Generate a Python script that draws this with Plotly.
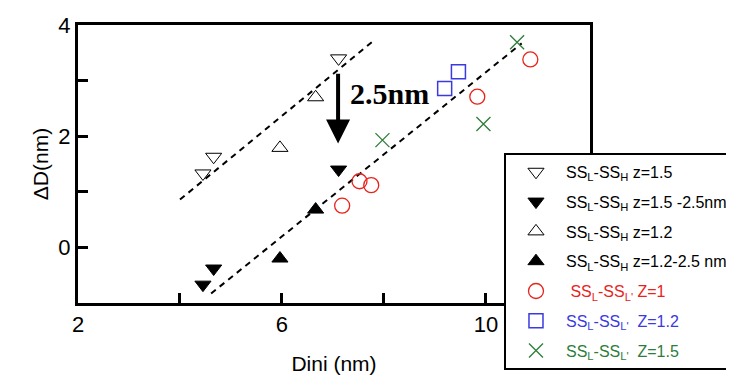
import plotly.graph_objects as go

# ---- data ----
ss15_open_x = [4.45, 4.66, 7.11]
ss15_open_y = [1.33, 1.63, 3.40]
ss15_fill_x = [4.45, 4.66, 7.11]
ss15_fill_y = [-0.67, -0.38, 1.40]
ss12_open_x = [5.96, 6.66]
ss12_open_y = [1.79, 2.70]
ss12_fill_x = [5.96, 6.66]
ss12_fill_y = [-0.20, 0.68]
z1_x = [7.18, 7.52, 7.75, 9.83, 10.87]
z1_y = [0.75, 1.19, 1.12, 2.71, 3.38]
z12_x = [9.19, 9.46]
z12_y = [2.86, 3.16]
z15_x = [7.97, 9.95, 10.61]
z15_y = [1.93, 2.22, 3.69]
fit_upper_x = [4.00, 7.76]
fit_upper_y = [0.86, 3.69]
fit_lower_x = [4.61, 10.70]
fit_lower_y = [-0.83, 3.67]
arrow_x = 7.10
arrow_from_y = 3.15
arrow_to_y = 1.87
shift_label = "2.5nm"
shift_label_x = 7.29
shift_label_y = 2.76

x_tickvals = [2, 4, 6, 8, 10]
x_ticktext = ["2", "", "6", "", "10"]
y_tickvals = [0, 1, 2, 3, 4]
y_ticktext = ["0", "", "2", "", "4"]

RED = "#e8231c"
BLUE = "#3a3ae0"
GREEN = "#2e7d3a"

fig = go.Figure()

# dashed fit lines
for fx, fy in [(fit_upper_x, fit_upper_y), (fit_lower_x, fit_lower_y)]:
    fig.add_trace(go.Scatter(x=fx, y=fy, mode="lines", showlegend=False,
                             line=dict(color="black", width=2, dash="6px,5px"),
                             hoverinfo="skip"))

def add(x, y, name, symbol, size, color, fill, lw, legendgroup):
    fig.add_trace(go.Scatter(
        x=x, y=y, mode="markers", name=name, legendgroup=legendgroup,
        marker=dict(symbol=symbol, size=size, color=fill,
                    line=dict(color=color, width=lw))))

add(ss15_open_x, ss15_open_y, "SS<sub>L</sub>-SS<sub>H</sub> z=1.5",
    "triangle-down", 14, "black", "white", 1, "a")
add(ss15_fill_x, ss15_fill_y, "SS<sub>L</sub>-SS<sub>H</sub> z=1.5 -2.5nm",
    "triangle-down", 14, "black", "black", 1, "b")
add(ss12_open_x, ss12_open_y, "SS<sub>L</sub>-SS<sub>H</sub> z=1.2",
    "triangle-up", 14, "black", "white", 1, "c")
add(ss12_fill_x, ss12_fill_y, "SS<sub>L</sub>-SS<sub>H</sub> z=1.2-2.5 nm",
    "triangle-up", 14, "black", "black", 1, "d")
fig.add_trace(go.Scatter(x=z1_x, y=z1_y, mode="markers", legendgroup="e",
    name="<span style='color:%s'> SS<sub>L</sub>-SS<sub>L'</sub> Z=1</span>" % RED,
    marker=dict(symbol="circle-open", size=15, color=RED, line=dict(width=1.3))))
fig.add_trace(go.Scatter(x=z12_x, y=z12_y, mode="markers", legendgroup="f",
    name="<span style='color:%s'>SS<sub>L</sub>-SS<sub>L'</sub>  Z=1.2</span>" % BLUE,
    marker=dict(symbol="square-open", size=14, color=BLUE, line=dict(width=1.5))))
fig.add_trace(go.Scatter(x=z15_x, y=z15_y, mode="markers", legendgroup="g",
    name="<span style='color:%s'>SS<sub>L</sub>-SS<sub>L'</sub>  Z=1.5</span>" % GREEN,
    marker=dict(symbol="x-thin", size=14, color=GREEN, line=dict(width=1.3, color=GREEN))))

fig.add_annotation(x=arrow_x, y=arrow_to_y, ax=arrow_x, ay=arrow_from_y,
                   xref="x", yref="y", axref="x", ayref="y", text="",
                   showarrow=True, arrowhead=2, arrowsize=1.2, arrowwidth=4,
                   arrowcolor="black")
fig.add_annotation(x=shift_label_x, y=shift_label_y, xref="x", yref="y",
                   text=shift_label, showarrow=False, xanchor="left", yanchor="middle",
                   font=dict(family="Liberation Serif", size=30, color="black", weight="bold"))

axis_common = dict(showline=True, linecolor="black", linewidth=3, mirror=True,
                   ticks="inside", ticklen=10, tickwidth=2.5, tickcolor="black",
                   showgrid=False, zeroline=False, automargin=False,
                   tickfont=dict(family="Liberation Sans", size=22, color="black"))

fig.update_xaxes(range=[2, 12.04], tickmode="array", tickvals=x_tickvals,
                 ticktext=x_ticktext,
                 title=dict(text="Dini (nm)", standoff=20,
                            font=dict(family="Liberation Sans", size=21, color="black")),
                 **axis_common)
fig.update_yaxes(range=[-1.0, 4.0], tickmode="array", tickvals=y_tickvals,
                 ticktext=y_ticktext,
                 title=dict(text="ΔD(nm)", standoff=4,
                            font=dict(family="Liberation Sans", size=21, color="black")),
                 **axis_common)

fig.update_layout(
    width=734, height=376,
    margin=dict(l=70, r=152, t=17, b=81, autoexpand=False),
    paper_bgcolor="white", plot_bgcolor="white",
    font=dict(family="Liberation Sans", color="black"),
    legend=dict(x=0.832, y=0.54, xanchor="left", yanchor="top",
                bgcolor="white", bordercolor="black", borderwidth=2,
                font=dict(family="Liberation Sans", size=16, color="black"),
                itemwidth=50, tracegroupgap=6),
)

fig.write_html("out.html")
